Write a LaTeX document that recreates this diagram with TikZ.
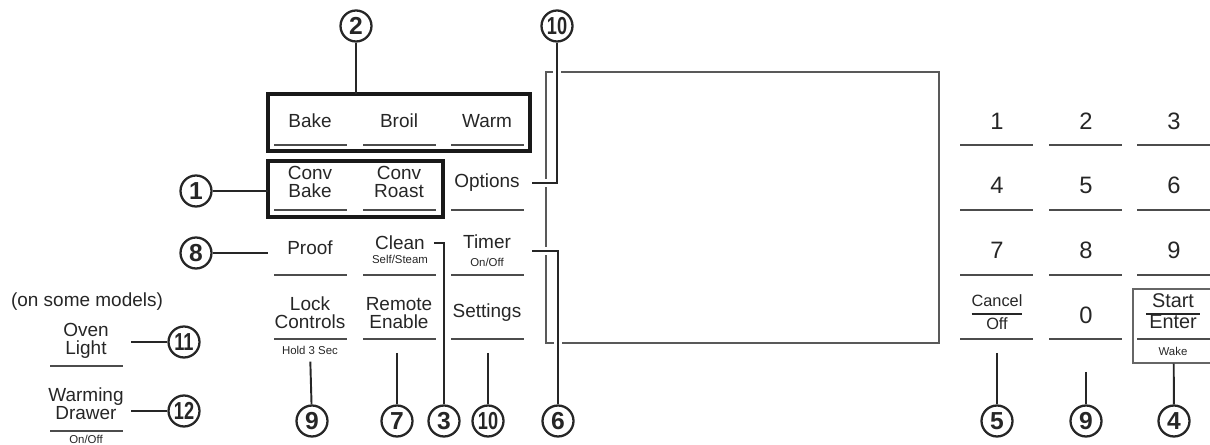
\documentclass[tikz,border=0pt]{standalone}
\usepackage{fontspec}
\setmainfont{Liberation Sans}
\usepackage{graphicx}
\newcommand\tightnum[1]{\scalebox{0.74}[1]{#1}}
\begin{document}
\begin{tikzpicture}[x=0.02cm,y=-0.02cm,
  key/.style={font=\fontsize{10.8}{10.2}\selectfont,align=center,inner sep=0pt,minimum width=1.8cm,text=black!85},
  small/.style={font=\fontsize{6.5}{7}\selectfont,inner sep=0pt,text=black!85},
  digit/.style={font=\fontsize{13.5}{14}\selectfont,inner sep=0pt,text=black!85},
  num/.style={circle,draw=black!85,line width=1.3pt,minimum size=0.62cm,inner sep=0pt,font=\fontsize{14}{14}\bfseries\selectfont,text=black!85},
  lead/.style={draw=black!85,line width=1.1pt},
  cross/.style={preaction={draw=white,line width=5pt,shorten <=3pt}},
  bar/.style={draw=black!70,line width=1pt},
  group/.style={draw=black!90,line width=2.2pt},
  screen/.style={draw=black!65,line width=0.8pt}]
  \useasboundingbox (0,0) rectangle (1210,445);
  % Anzeige
  \draw[screen] (546,72) rectangle (939,343);
  % Gruppenrahmen
  \draw[group] (268,94) coordinate (g2nw) rectangle (530,151);
  \draw[group] (268,161) coordinate (g1nw) rectangle (443,217);
  % Unterstriche der Tasten
  \foreach \cx in {310.5,399.5,487.5,996.5,1085.5,1173.5}
    \foreach \uy in {145,210,275,339}
      \draw[bar] (\cx-36.5,\uy) -- (\cx+36.5,\uy);
  \draw[bar] (50,366) -- (123,366);
  \draw[bar] (50,431) -- (123,431);
  % Tasten links
  \node[key] (bake) at (310,121) {Bake};
  \node[key] (broil) at (399,121) {Broil};
  \node[key] (warm) at (487,121) {Warm};
  \node[key] (cbake) at (310,182) {Conv\\Bake};
  \node[key] (croast) at (399,182) {Conv\\Roast};
  \node[key] (opt) at (487,183) {Options};
  \node[key] (proof) at (310,248) {Proof};
  \node[key,minimum width=0pt,inner xsep=5pt] (clean) at (400,243) {Clean};
  \node[small] (steam) at (400,259) {Self/Steam};
  \node[key] (timer) at (487,251) {Timer\\{\fontsize{6.5}{7}\selectfont On/Off}};
  \node[key] (lock) at (310,313) {Lock\\Controls};
  \node[small] (hold) at (310,350) {Hold 3 Sec};
  \node[key] (remote) at (399,313) {Remote\\Enable};
  \node[key] (settings) at (487,313) {Settings};
  % Modellabhaengige Tasten
  \node[key] (models) at (87,302) {(on some models)};
  \node[key] (light) at (86,341) {Oven\\Light};
  \node[key] (drawer) at (86,404) {Warming\\Drawer};
  \node[small] (drawoff) at (86,439) {On/Off};
  % Ziffernblock
  \foreach \d/\cx/\cy in {1/997/121, 2/1086/121, 3/1174/121, 4/997/185, 5/1086/185,
      6/1174/185, 7/997/250, 8/1086/250, 9/1174/250, 0/1086/315}
    \node[digit] (k\d) at (\cx,\cy) {\d};
  \node[font=\fontsize{9.3}{12}\selectfont,inner sep=0pt,text=black!85] (cancel) at (997,314)
    {\setlength\arrayrulewidth{0.8pt}\begin{tabular}{@{}c@{}}Cancel\\\hline Off\end{tabular}};
  \node[draw=black!60,line width=0.6pt,minimum width=1.62cm,minimum height=1.48cm] (sbox) at (1173.5,326) {};
  \node[font=\fontsize{11.3}{11.5}\selectfont,inner sep=0pt,text=black!85] (start) at (1173,314)
    {\setlength\arrayrulewidth{0.8pt}\begin{tabular}{@{\hspace{2pt}}c@{\hspace{2pt}}}Start\\\hline Enter\end{tabular}};
  \node[small] (wake) at (1173,351) {Wake};
  % Nummern
  \node[num] (n2) at (356,26) {2};
  \node[num] (n10t) at (557,26) {\tightnum{10}};
  \node[num] (n1) at (196,191) {1};
  \node[num] (n8) at (196,253) {8};
  \node[num] (n11) at (184,342) {\tightnum{11}};
  \node[num] (n12) at (184,411) {\tightnum{12}};
  \node[num] (n9) at (312,421) {9};
  \node[num] (n7) at (397,421) {7};
  \node[num] (n3) at (444,421) {3};
  \node[num] (n10b) at (488,421) {\tightnum{10}};
  \node[num] (n6) at (558,421) {6};
  \node[num] (n5) at (997,421) {5};
  \node[num] (n9r) at (1086,421) {9};
  \node[num] (n4) at (1174,421) {4};
  % freie Enden
  \coordinate (f7) at (397,353);
  \coordinate (f10) at (488,353);
  \coordinate (f5) at (997,353);
  \coordinate (f9) at (1086,372);
  % Verbindungslinien
  \draw[lead] (n2) -- (n2 |- g2nw);
  \draw[lead] (n1) -- (n1 -| g1nw);
  \draw[lead] (n8) -- (n8 -| g1nw);
  \draw[lead,cross] (opt.east) -| (n10t);
  \draw[lead,cross] (timer.east) -| (n6);
  \draw[lead] (clean.east) -| (n3);
  \draw[lead,shorten <=4pt] (hold) -- (n9);
  \draw[lead] (f7) -- (n7);
  \draw[lead] (f10) -- (n10b);
  \draw[lead] (f5) -- (n5);
  \draw[lead] (f9) -- (n9r);
  \draw[lead] (sbox) -- (n4);
  \draw[lead] (n11) -- (n11 -| light.east);
  \draw[lead] (n12) -- (n12 -| drawer.east);
\end{tikzpicture}
\end{document}
